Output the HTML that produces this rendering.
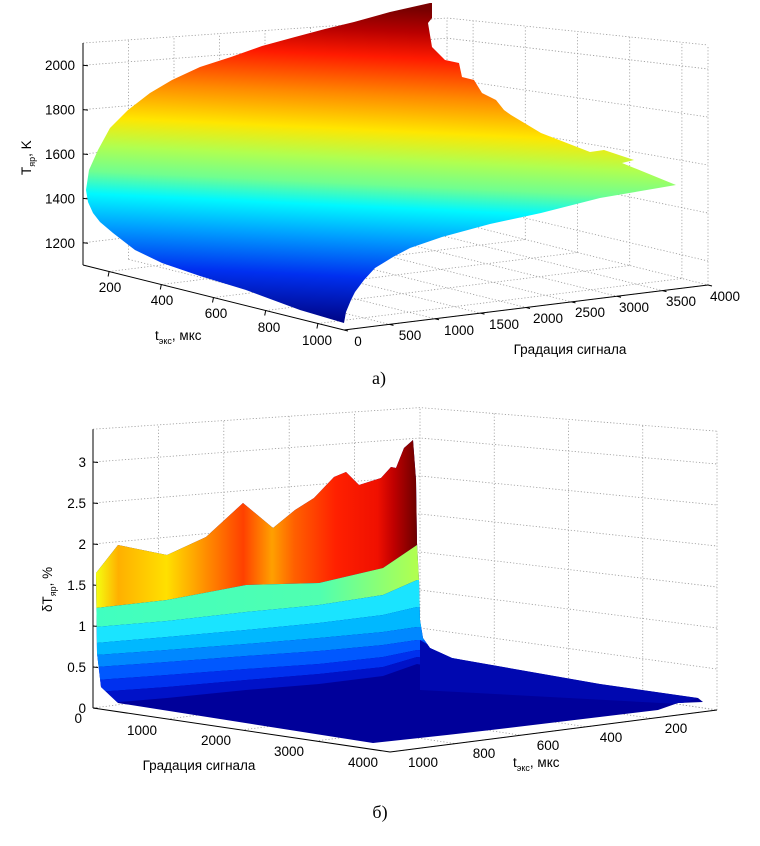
<!DOCTYPE html>
<html><head><meta charset="utf-8"><style>
html,body{margin:0;padding:0;background:#fff;}
svg{display:block;font-family:"Liberation Sans",Arial,sans-serif;}
.t{font-size:13.5px;fill:#000;}
.g{stroke:#9a9a9a;stroke-width:0.8;stroke-dasharray:1.2,2;fill:none;}
.a{stroke:#000;stroke-width:1;fill:none;}
</style></head><body>
<svg id="s" width="760" height="846" viewBox="0 0 760 846" xmlns="http://www.w3.org/2000/svg">
<defs>
<linearGradient id="ga" gradientUnits="userSpaceOnUse" x1="200" y1="0" x2="185" y2="320">
<stop offset="0" stop-color="#7a0000"/>
<stop offset="0.07" stop-color="#b80000"/>
<stop offset="0.15" stop-color="#ff1a00"/>
<stop offset="0.27" stop-color="#ff8a00"/>
<stop offset="0.38" stop-color="#ffe600"/>
<stop offset="0.47" stop-color="#b0ff50"/>
<stop offset="0.55" stop-color="#70ff90"/>
<stop offset="0.62" stop-color="#00f8ff"/>
<stop offset="0.72" stop-color="#009cff"/>
<stop offset="0.84" stop-color="#0030f0"/>
<stop offset="1" stop-color="#00007a"/>
</linearGradient>
<linearGradient id="gb1" gradientUnits="userSpaceOnUse" x1="96" y1="0" x2="416" y2="0">
<stop offset="0" stop-color="#f4ff10"/>
<stop offset="0.07" stop-color="#ffb000"/>
<stop offset="0.22" stop-color="#ffe000"/>
<stop offset="0.34" stop-color="#ff9000"/>
<stop offset="0.46" stop-color="#ff4000"/>
<stop offset="0.55" stop-color="#ffa000"/>
<stop offset="0.62" stop-color="#ff6000"/>
<stop offset="0.75" stop-color="#ff2000"/>
<stop offset="0.88" stop-color="#f01000"/>
<stop offset="0.93" stop-color="#c00000"/>
<stop offset="1" stop-color="#700000"/>
</linearGradient>
<linearGradient id="gb2" gradientUnits="userSpaceOnUse" x1="96" y1="0" x2="416" y2="0">
<stop offset="0" stop-color="#40ffc0"/>
<stop offset="0.7" stop-color="#50ffb0"/>
<stop offset="1" stop-color="#b0ff50"/>
</linearGradient>
<clipPath id="cb"><polygon id="ob" points=""/></clipPath>
</defs>
<g id="A"></g>
<g id="Bg"></g>
<text x="379" y="384" font-family="Liberation Serif,serif" font-size="18" text-anchor="middle">а)</text>
<text x="380" y="818" font-family="Liberation Serif,serif" font-size="18" text-anchor="middle">б)</text>
</svg>
<script>
var NS="http://www.w3.org/2000/svg";
function el(p,tag,at,txt){var e=document.createElementNS(NS,tag);for(var k in at)e.setAttribute(k,at[k]);if(txt!==undefined)e.textContent=txt;p.appendChild(e);return e;}
function ln(p,a,b,c){el(p,"line",{x1:a[0],y1:a[1],x2:b[0],y2:b[1],"class":c});}
function pl(p,pts,c){el(p,"polyline",{points:pts.map(function(q){return q.join(",")}).join(" "),"class":c});}
/* ---------- chart A ---------- */
(function(){
var G=document.getElementById("A");
var L=[83,265],F=[344,330],B=[447,220],R=[708,285];
var sL=0.222,sB=0.202,sF=0.26,sR=0.240;
function fl(g,t){return [L[0]+g*(B[0]-L[0])+t*(F[0]-L[0]),L[1]+g*(B[1]-L[1])+t*(F[1]-L[1])];}
function hs(g,t){return (1-g)*(1-t)*sL+g*(1-t)*sB+(1-g)*t*sF+g*t*sR;}
function P(g,t,z){var p=fl(g,t);return [p[0],p[1]-(z-1100)*hs(g,t)];}
var zs=[1200,1400,1600,1800,2000,2100];
// back walls horizontal
zs.forEach(function(z){pl(G,[P(0,0,z),P(1,0,z),P(1,1,z)],"g");});
// left wall verticals (gradation)
for(var i=1;i<=8;i++){var g=i/8;ln(G,P(g,0,1100),P(g,0,2100),"g");}
// right wall verticals (t)
var tf=[0.1,0.3,0.5,0.7,0.9,1];
tf.forEach(function(t){ln(G,P(1,t,1100),P(1,t,2100),"g");});
// floor
for(var i=1;i<=8;i++){var g=i/8;ln(G,P(g,0,1100),P(g,1,1100),"g");}
tf.forEach(function(t){ln(G,P(0,t,1100),P(1,t,1100),"g");});
// axes
ln(G,P(0,0,1100),P(0,0,2100),"a");
ln(G,L,F,"a");ln(G,F,R,"a");
// z ticks
[1200,1400,1600,1800,2000].forEach(function(z){var p=P(0,0,z);ln(G,p,[p[0]+5,p[1]+0.5],"a");el(G,"text",{x:75,y:p[1]+5,"class":"t","text-anchor":"end"},String(z));});
// t ticks
[200,400,600,800,1000].forEach(function(v,i){var t=(v-100)/1000*1.0+0.0;var p=fl(0,t);ln(G,p,[p[0]-1,p[1]+5],"a");});
var tl=[[110,292,"200"],[162,305,"400"],[216,318,"600"],[269,332,"800"],[317,345,"1000"]];
tl.forEach(function(a){el(G,"text",{x:a[0],y:a[1],"class":"t","text-anchor":"middle"},a[2]);});
var gl=[[358,346,"0"],[410,340,"500"],[459,335,"1000"],[504,329,"1500"],[548,323,"2000"],[590,317,"2500"],[634,312,"3000"],[681,306,"3500"],[725,301,"4000"]];
gl.forEach(function(a,i){var p=[F[0]+(R[0]-F[0])*i/8,F[1]+(R[1]-F[1])*i/8];ln(G,p,[p[0]+4,p[1]+1],"a");el(G,"text",{x:a[0],y:a[1],"class":"t","text-anchor":"middle"},a[2]);});
el(G,"text",{x:570,y:354,"class":"t","text-anchor":"middle"},"Градация сигнала");
var tx=el(G,"text",{x:155,y:340,"class":"t"});
tx.innerHTML='t<tspan font-size="9" dy="4">экс</tspan><tspan dy="-4">, мкс</tspan>';
var ty=el(G,"text",{x:0,y:0,"class":"t",transform:"translate(31,175) rotate(-90)"});
ty.innerHTML='T<tspan font-size="9" dy="4">яр</tspan><tspan dy="-4">, K</tspan>';
// surface
var s=[[86,190],[89,170],[98,150],[110,128],[128,110],[150,93],[172,80],[200,67],[231,57],[262,46],[295,37],[325,29],[354,22],[390,12],[430,3],[432,3],[432,18],[428,23],[432,47],[445,60],[459,63],[462,77],[474,80],[482,93],[496,100],[504,110],[511,115],[541,133],[590,152],[604,150],[634,160],[622,163],[676,185],[600,198],[541,213],[490,224],[442,237],[410,248],[393,257],[375,268],[364,280],[355,292],[351,300],[346,312],[344,323],[300,310],[246,290],[200,276],[162,263],[135,250],[113,233],[100,222],[93,213],[88,202]];
el(G,"polygon",{points:s.map(function(q){return q.join(",")}).join(" "),fill:"url(#ga)"});
})();
/* ---------- chart B ---------- */
(function(){
var G=document.getElementById("Bg");
var L=[93,708],F=[390,752],B=[420,666],R=[717,710];
var sL=82,sB=76,sF=88,sR=82;
function fl(g,t){return [L[0]+g*(F[0]-L[0])+t*(B[0]-L[0]),L[1]+g*(F[1]-L[1])+t*(B[1]-L[1])];}
function hs(g,t){return (1-g)*(1-t)*sL+(1-g)*t*sB+g*(1-t)*sF+g*t*sR;}
function P(g,t,z){var p=fl(g,t);return [p[0],p[1]-z*hs(g,t)];}
var zs=[0,0.5,1,1.5,2,2.5,3,3.4];
zs.forEach(function(z){pl(G,[P(0,0,z),P(0,1,z),P(1,1,z)],"g");});
var tf=[0.2,0.4,0.6,0.8,1];
tf.forEach(function(t){ln(G,P(0,t,0),P(0,t,3.4),"g");});
var gf=[0.25,0.5,0.75,1];
// right wall verticals: along B->R (g direction)
gf.forEach(function(g){ln(G,P(g,1,0),P(g,1,3.4),"g");});
gf.forEach(function(g){ln(G,P(g,0,0),P(g,1,0),"g");});
tf.forEach(function(t){ln(G,P(0,t,0),P(1,t,0),"g");});
ln(G,P(0,0,0),P(0,0,3.4),"a");
ln(G,L,F,"a");ln(G,F,R,"a");
[0,0.5,1,1.5,2,2.5,3].forEach(function(z){var p=P(0,0,z);ln(G,p,[p[0]+5,p[1]+0.5],"a");el(G,"text",{x:86,y:p[1]+5,"class":"t","text-anchor":"end"},String(z));});
el(G,"text",{x:82,y:723,"class":"t","text-anchor":"end"},"0");
var gl=[[142,735,"1000"],[216,745,"2000"],[289,756,"3000"],[363,767,"4000"]];
gl.forEach(function(a){el(G,"text",{x:a[0],y:a[1],"class":"t","text-anchor":"middle"},a[2]);});
var tl=[[423,767,"1000"],[484,758,"800"],[548,750,"600"],[611,742,"400"],[676,733,"200"]];
tl.forEach(function(a){el(G,"text",{x:a[0],y:a[1],"class":"t","text-anchor":"middle"},a[2]);});
el(G,"text",{x:199,y:770,"class":"t","text-anchor":"middle"},"Градация сигнала");
var tx=el(G,"text",{x:513,y:767,"class":"t"});
tx.innerHTML='t<tspan font-size="9" dy="4">экс</tspan><tspan dy="-4">, мкс</tspan>';
var ty=el(G,"text",{x:0,y:0,"class":"t",transform:"translate(52,612) rotate(-90)"});
ty.innerHTML='δT<tspan font-size="9" dy="4">яр</tspan><tspan dy="-4">, %</tspan>';
// surface
var o=[[96,573],[118,545],[167,555],[206,537],[243,503],[273,528],[295,510],[314,498],[334,477],[346,472],[359,485],[381,478],[391,467],[396,468],[404,448],[413,440],[416,480],[417,543],[419,580],[420,620],[423,638],[430,648],[452,658],[600,684],[698,698],[703,702],[678,703],[658,710],[491,730],[447,735],[373,743],[118,703],[101,687],[97,653]];
var ps=o.map(function(q){return q.join(",")}).join(" ");
document.getElementById("ob").setAttribute("points",ps);
el(G,"polygon",{points:ps,fill:"#00009a"});
var C=el(G,"g",{"clip-path":"url(#cb)"});
var xs=[80,96,167,246,319,383,417,460];
var Ls=[[400,400,400,400,400,400,400,400],
[608,608,600,585,583,568,545,545],
[627,627,621,612,605,595,580,580],
[643,643,637,630,623,615,607,607],
[655,655,650,644,638,632,627,627],
[667,667,662,656,651,645,640,640],
[680,680,675,669,664,657,650,652],
[692,692,687,680,674,667,657,662],
[704,704,698,690,684,676,664,672]];
var cols=["url(#gb1)","url(#gb2)","#1ae4ff","#00b8ff","#0088ff","#0058ff","#0030ee","#0012c8"];
for(var i=0;i<cols.length;i++){var a=Ls[i],b=Ls[i+1],pts=[];
for(var j=0;j<xs.length;j++)pts.push(xs[j]+","+a[j]);
for(var j=xs.length-1;j>=0;j--)pts.push(xs[j]+","+b[j]);
el(C,"polygon",{points:pts.join(" "),fill:cols[i]});}
// floor shading gradient near wall
el(C,"polygon",{points:"420,640 452,658 600,684 698,698 680,704 420,690",fill:"#0008b0"});
})();
</script>
</body></html>
